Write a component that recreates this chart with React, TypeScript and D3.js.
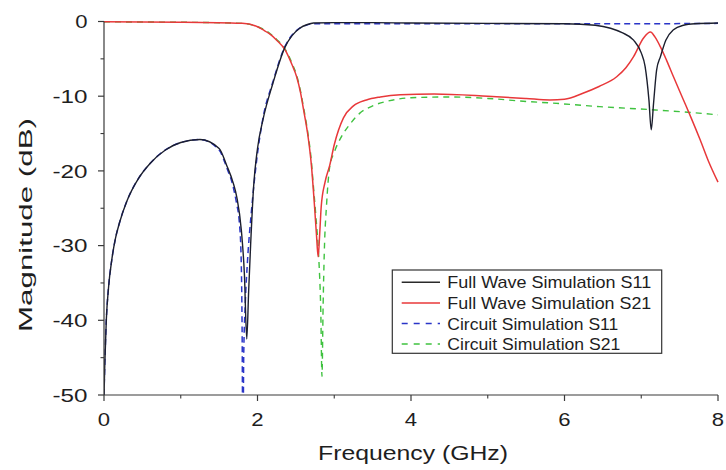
import React from "react";
import * as d3 from "d3";

// ---- Data ----
const fwS11Freq = [0, 0.01, 0.03, 0.06, 0.1, 0.15, 0.2, 0.3, 0.45, 0.6, 0.8, 1.0, 1.25, 1.5, 1.6, 1.68, 1.73, 1.79, 1.83, 1.86, 1.885, 1.91, 1.95, 2.0, 2.07, 2.2, 2.36, 2.45, 2.55, 2.65, 2.73, 3.0, 3.5, 4, 5, 6, 6.4, 6.6, 6.75, 6.9, 7.0, 7.05, 7.1, 7.13, 7.16, 7.2, 7.25, 7.32, 7.42, 7.55, 7.7, 8];
const fwS11dB = [-50, -46, -40, -35.5, -32, -29, -27, -24, -21, -19, -17.2, -16.2, -15.8, -17, -19.3, -21.5, -23.5, -28, -34, -42.5, -36, -30, -22, -17, -13.2, -8.3, -3.4, -1.9, -0.9, -0.4, -0.2, -0.15, -0.15, -0.2, -0.25, -0.3, -0.5, -0.9, -1.5, -2.5, -4.2, -6, -10.5, -14.5, -11, -6.5, -4.7, -2.5, -1.1, -0.5, -0.3, -0.2];

const fwS21Freq = [0, 1.0, 1.8, 2.0, 2.07, 2.15, 2.25, 2.36, 2.45, 2.51, 2.56, 2.6, 2.66, 2.7, 2.74, 2.77, 2.79, 2.81, 2.83, 2.88, 2.94, 3.0, 3.12, 3.25, 3.42, 3.6, 3.86, 4.3, 5.0, 5.5, 5.81, 6.0, 6.24, 6.45, 6.68, 6.8, 6.9, 7.03, 7.12, 7.18, 7.25, 7.33, 7.42, 7.55, 7.65, 7.77, 7.88, 8];
const fwS21dB = [-0.05, -0.1, -0.25, -0.7, -1.1, -1.6, -2.5, -3.8, -5.8, -7.4, -9.5, -11.8, -15.5, -19, -24.3, -28.8, -31.5, -28.5, -24.8, -21.5, -19.3, -16.5, -12.9, -11.3, -10.5, -10.1, -9.8, -9.7, -10, -10.3, -10.5, -10.4, -9.6, -8.7, -7.4, -6.2, -4.7, -2.2, -1.4, -2.1, -3.4, -5.2, -7.4, -10.5, -12.9, -15.9, -18.8, -21.5];

const ciS11Freq = [0, 0.01, 0.03, 0.06, 0.1, 0.15, 0.2, 0.3, 0.45, 0.6, 0.8, 1.0, 1.25, 1.5, 1.6, 1.68, 1.73, 1.76, 1.785, 1.8, 1.81, 1.82, 1.84, 1.87, 1.92, 1.99, 2.07, 2.2, 2.36, 2.45, 2.55, 2.65, 2.73, 3.0, 4, 5, 6, 7, 8];
const ciS11dB = [-50, -46, -40, -35.5, -32, -29, -27, -24, -21, -19, -17.2, -16.2, -15.8, -17.2, -19.6, -22, -24.5, -26.5, -31, -42, -60, -45, -38, -32, -25.5, -18.5, -13, -8.1, -3.3, -1.8, -0.9, -0.45, -0.3, -0.3, -0.3, -0.3, -0.3, -0.3, -0.25];

const ciS21Freq = [0, 1.0, 1.8, 2.0, 2.07, 2.15, 2.25, 2.36, 2.45, 2.51, 2.56, 2.6, 2.66, 2.7, 2.72, 2.76, 2.8, 2.825, 2.84, 2.855, 2.87, 2.9, 2.94, 3.0, 3.1, 3.2, 3.33, 3.5, 3.77, 4.0, 4.5, 5.0, 5.5, 5.81, 6.46, 7.12, 7.9, 8];
const ciS21dB = [-0.05, -0.1, -0.25, -0.7, -1.0, -1.5, -2.4, -3.7, -5.6, -7.2, -9.3, -11.5, -15.2, -18.5, -21, -26, -32, -39, -47.5, -38, -31, -24.5, -19.5, -17.5, -15.3, -13.8, -12.3, -11.3, -10.5, -10.2, -10.1, -10.3, -10.7, -10.9, -11.4, -11.8, -12.4, -12.5];

const xTicks = [0, 2, 4, 6, 8];
const xMinorTicks = [1, 3, 5, 7];
const yTicks = [0, -10, -20, -30, -40, -50];
const yMinorTicks = [-5, -15, -25, -35, -45];

const legendLabels = [
  "Full Wave Simulation S11",
  "Full Wave Simulation S21",
  "Circuit Simulation S11",
  "Circuit Simulation S21",
];

const W = 726;
const H = 470;
const X0 = 104;
const X1 = 718;
const Y0 = 21.5;
const Y1 = 395;
const FONT = "'Liberation Sans', Arial, Helvetica, sans-serif";
const AXIS = "#3a3a3a";
const TEXT = "#1e1e1e";

type Series = { f: number[]; v: number[]; color: string; dash?: string; width: number };

export default function App() {
  const x = d3.scaleLinear().domain([0, 8]).range([X0, X1]);
  const y = d3.scaleLinear().domain([-50, 0]).range([Y1, Y0]);

  const series: Series[] = [
    { f: ciS21Freq, v: ciS21dB, color: "#3fc23f", dash: "6,5", width: 1.4 },
    { f: fwS21Freq, v: fwS21dB, color: "#e8383a", width: 1.5 },
    { f: ciS11Freq, v: ciS11dB, color: "#2a35c8", dash: "6,4", width: 1.5 },
    { f: fwS11Freq, v: fwS11dB, color: "#1c1f2e", width: 1.4 },
  ];

  const line = d3
    .line<[number, number]>()
    .x((d) => x(d[0]))
    .y((d) => y(d[1]))
    .curve(d3.curveMonotoneX);

  const legendStyles = [
    { color: "#2a2a2a", dash: undefined as string | undefined },
    { color: "#e8383a", dash: undefined },
    { color: "#2a35c8", dash: "6,6" },
    { color: "#3fc23f", dash: "6,6" },
  ];
  const legendTextLen = [204, 204, 171, 173];
  const legBase = [288.3, 309, 329.5, 350];

  return (
    <svg
      width={W}
      height={H}
      style={{ position: "absolute", left: 0, top: 0, background: "#fff" }}
      fontFamily={FONT}
    >
      <defs>
        <clipPath id="plotclip">
          <rect x={X0} y={Y0 - 4} width={X1 - X0 + 4} height={Y1 - Y0 + 4} />
        </clipPath>
      </defs>
      <rect x={0} y={0} width={W} height={H} fill="#fff" />

      {/* curves */}
      <g clipPath="url(#plotclip)">
        {series.map((s, i) => (
          <path
            key={i}
            d={line(s.f.map((f, j) => [f, s.v[j]] as [number, number])) || ""}
            fill="none"
            stroke={s.color}
            strokeWidth={s.width}
            strokeDasharray={s.dash}
            strokeLinejoin="round"
          />
        ))}
      </g>

      {/* axes */}
      <line x1={X0} x2={X0} y1={Y0} y2={Y1} stroke={AXIS} strokeWidth={1.2} />
      <line x1={X0} x2={x(8)} y1={Y1} y2={Y1} stroke={AXIS} strokeWidth={1.2} />

      {yTicks.map((t) => (
        <g key={"yt" + t}>
          <line x1={X0 - 6} x2={X0} y1={y(t)} y2={y(t)} stroke={AXIS} strokeWidth={1.2} />
          <text
            x={87.5}
            y={y(t)}
            dy="0.36em"
            textAnchor="end"
            fontSize={18.5}
            fill={TEXT}
            textLength={t === 0 ? 12.3 : 35}
            lengthAdjust="spacingAndGlyphs"
          >
            {t}
          </text>
        </g>
      ))}
      {yMinorTicks.map((t) => (
        <line key={"ym" + t} x1={X0 - 3.5} x2={X0} y1={y(t)} y2={y(t)} stroke={AXIS} strokeWidth={1.1} />
      ))}

      {xTicks.map((t) => (
        <g key={"xt" + t}>
          <line x1={x(t)} x2={x(t)} y1={Y1} y2={Y1 + 6} stroke={AXIS} strokeWidth={1.2} />
          <text
            x={x(t)}
            y={426}
            textAnchor="middle"
            fontSize={19}
            fill={TEXT}
            textLength={12.3}
            lengthAdjust="spacingAndGlyphs"
          >
            {t}
          </text>
        </g>
      ))}
      {xMinorTicks.map((t) => (
        <line key={"xm" + t} x1={x(t)} x2={x(t)} y1={Y1} y2={Y1 + 3.5} stroke={AXIS} strokeWidth={1.1} />
      ))}

      {/* axis titles */}
      <text
        x={413}
        y={460}
        textAnchor="middle"
        fontSize={20}
        fill={TEXT}
        textLength={190}
        lengthAdjust="spacingAndGlyphs"
      >
        Frequency (GHz)
      </text>
      <text
        transform={`translate(32,${225}) rotate(-90)`}
        textAnchor="middle"
        fontSize={17.5}
        fill={TEXT}
        textLength={214}
        lengthAdjust="spacingAndGlyphs"
      >
        Magnitude (dB)
      </text>

      {/* legend */}
      <rect x={392.3} y={270} width={269.4} height={83.3} fill="#fff" stroke="#333" strokeWidth={1.2} />
      {legendLabels.map((lab, i) => (
        <g key={lab}>
          <line
            x1={401.7}
            x2={440}
            y1={legBase[i] - 6}
            y2={legBase[i] - 6}
            stroke={legendStyles[i].color}
            strokeWidth={1.5}
            strokeDasharray={legendStyles[i].dash}
          />
          <text
            x={447.3}
            y={legBase[i]}
            fontSize={17}
            fill={TEXT}
            textLength={legendTextLen[i]}
            lengthAdjust="spacingAndGlyphs"
          >
            {lab}
          </text>
        </g>
      ))}
    </svg>
  );
}
